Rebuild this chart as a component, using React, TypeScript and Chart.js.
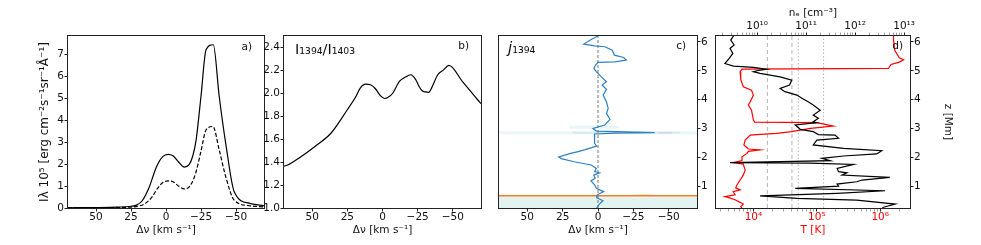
import React, { useEffect, useRef } from 'react';
import { Chart, registerables } from 'chart.js';

Chart.register(...registerables);

const W = 981;
const H = 245;
const FONT = "'DejaVu Sans', sans-serif";
const AX = '#222';
const TXT = '#111';

// ---------------- tick values ----------------
const dvTicks = [50, 25, 0, -25, -50];
const intensityTicks = [0, 1, 2, 3, 4, 5, 6, 7];
const ratioTicks = [1.0, 1.2, 1.4, 1.6, 1.8, 2.0, 2.2, 2.4];
const zTicks = [1, 2, 3, 4, 5, 6];
const tempDecades = [1e4, 1e5, 1e6];
const neDecades = [1e10, 1e11, 1e12, 1e13];

// ---------------- panel a: line profiles ----------------
const profDv1394 = [70, 50, 35, 25, 21, 17, 12, 7, 2.5, -1.5, -5, -9, -13, -16.5, -19, -21.5, -25, -28.6, -33.8, -38, -43, -48.8, -60.5, -70];
const prof1394 = [0.01, 0.02, 0.04, 0.08, 0.13, 0.33, 0.95, 1.85, 2.33, 2.45, 2.38, 2.1, 1.87, 1.98, 2.35, 3.1, 5.1, 7.22, 7.45, 5.1, 2.8, 0.73, 0.2, 0.1];
const profDv1403 = [70, 50, 25, 20, 15, 10, 6, 2, -1.5, -5, -9, -13, -17, -21, -25, -28.6, -33.5, -38, -43, -48.8, -60.5, -70];
const prof1403 = [0.005, 0.01, 0.04, 0.08, 0.2, 0.5, 0.9, 1.17, 1.24, 1.2, 1.0, 0.87, 1.0, 1.55, 2.6, 3.56, 3.72, 2.65, 1.35, 0.35, 0.1, 0.05];

// ---------------- panel b: ratio ----------------
const ratioDv = [70, 67, 60, 48, 36.5, 25, 19, 15.8, 12, 8.5, 5, 1.5, -1.6, -4, -7.4, -12, -16, -20, -23.6, -26, -28.2, -30.5, -32.8, -35, -39.3, -43, -47.2, -57, -67.6, -70];
const ratio = [1.365, 1.377, 1.43, 1.537, 1.654, 1.857, 1.97, 2.046, 2.08, 2.075, 2.04, 1.98, 1.955, 1.965, 2.003, 2.104, 2.14, 2.162, 2.12, 2.06, 2.022, 2.012, 2.008, 2.05, 2.162, 2.2, 2.243, 2.1, 1.944, 1.91];

// ---------------- panel c: emissivity centroid ----------------
const jZ = [6.2, 6.08, 5.92, 5.86, 5.83, 5.71, 5.54, 5.46, 5.37, 5.31, 5.29, 5.2, 5.08, 4.97, 4.79, 4.62, 4.51, 4.36, 4.16, 3.93, 3.7, 3.53, 3.32, 3.13, 3.01, 2.92, 2.87, 2.85, 2.82, 2.75, 2.5, 2.4, 2.27, 2.21, 2.15, 2.03, 1.97, 1.86, 1.75, 1.63, 1.52, 1.48, 1.4, 1.29, 1.2, 1.06, 0.94, 0.83, 0.72, 0.62, 0.52, 0.4, 0.265];
const jDv = [0, 4.8, 10.1, 2.4, -4.8, -10.1, -11.6, -18.1, -20, -12, 0, 1.7, 2.9, 1.2, -2.4, -6, -2.9, -6, -3.6, -6, -7.2, -6, -8.5, -4.8, 3.6, 1, -40, -12, 2.5, 2.4, 2.4, 1, 9.6, 14, 19.3, 27.8, 26, 16.9, 4.8, 1.2, 2.4, -1, 3, 2, 5, 2.4, 1, -4, 0.5, 1, -3.5, -1, 1];
const orangeZ = 0.69;
const bandTopZ = 0.66;
const glowZ = [2.86, 2.86, 2.86, 2.86, 3.05];
const glowDvFrom = [70, 18, -22, -43, 20];
const glowDvTo = [-70, -58, -40, -52, -15];
const bumpDv = [-22, -27, -32, -37, -42];
const bumpZ = [0.69, 0.71, 0.72, 0.71, 0.69];

// ---------------- panel d: atmosphere ----------------
const tZ = [6.2, 6.06, 5.7, 5.45, 5.38, 5.3, 5.22, 5.08, 5.06, 4.97, 4.7, 4.45, 4.33, 4.16, 3.93, 3.82, 3.64, 3.3, 3.23, 3.21, 3.09, 3.01, 2.9, 2.84, 2.8, 2.78, 2.61, 2.44, 2.3, 2.27, 2.22, 2.15, 2.03, 1.9, 1.83, 1.78, 1.57, 1.4, 1.23, 1.06, 0.96, 0.89, 0.83, 0.72, 0.66, 0.63, 0.55, 0.46, 0.4, 0.31, 0.265];
const tempK = [1.62e6, 1.62e6, 1.7e6, 2.0e6, 2.34e6, 2.0e6, 1.48e6, 1.35e6, 6610, 6170, 6310, 6920, 9330, 10000, 8910, 8320, 9330, 10000, 10470, 100000, 182000, 79400, 39800, 23400, 11200, 8910, 7410, 7080, 8320, 12600, 8320, 7940, 6610, 6610, 4790, 6920, 7410, 6920, 6170, 5500, 5250, 6170, 4790, 5130, 3550, 3980, 5130, 6170, 6920, 6310, 6610];
const neZ = [6.2, 6.06, 5.89, 5.77, 5.6, 5.43, 5.25, 5.16, 5.12, 5.05, 5.0, 4.97, 4.91, 4.79, 4.68, 4.51, 4.39, 4.28, 4.16, 4.05, 3.93, 3.82, 3.64, 3.47, 3.36, 3.24, 3.21, 3.13, 2.98, 2.9, 2.8, 2.78, 2.67, 2.61, 2.44, 2.32, 2.24, 2.13, 2.06, 1.98, 1.9, 1.83, 1.81, 1.77, 1.63, 1.52, 1.48, 1.4, 1.32, 1.23, 1.17, 1.09, 1.02, 0.94, 0.86, 0.77, 0.68, 0.6, 0.54, 0.4, 0.29, 0.265];
const neCm3 = [3.3e9, 2.9e9, 3.4e9, 2.8e9, 3.2e9, 2.7e9, 2.2e9, 3.3e9, 8.4e9, 1.58e10, 9.9e9, 8.4e9, 1.15e10, 2.95e10, 5.1e10, 4.6e10, 2.95e10, 3.7e10, 6.5e10, 8.2e10, 1.1e11, 1.4e11, 1.94e11, 1.4e11, 1.78e11, 1.4e11, 1.66e11, 6.0e10, 7.6e10, 1.4e11, 1.78e11, 3.9e11, 4.6e11, 1.66e11, 1.4e11, 5.8e11, 3.5e12, 2.75e12, 5.8e11, 2.1e11, 3.1e11, 2.8e9, 1.2e11, 9.3e11, 4.3e11, 4.6e11, 6.8e11, 5.4e11, 5.1e12, 1.38e12, 1.08e12, 4.3e11, 4.6e11, 6.0e10, 4.1e12, 4.3e11, 1.15e10, 6.5e10, 1.08e12, 6.6e12, 3.8e12, 3.6e12];
const tempRefLines = [1.66e4, 4.05e4, 5.1e4, 1.28e5];

// ---------------- helpers ----------------
type Pt = { x: number; y: number };
const zip = (xs: number[], ys: number[]): Pt[] => xs.map((x, i) => ({ x, y: ys[i] }));
const SUPS: Record<string, string> = { '0': '⁰', '1': '¹', '2': '²', '3': '³', '4': '⁴', '5': '⁵', '6': '⁶', '7': '⁷', '8': '⁸', '9': '⁹', '-': '⁻' };
const sup = (s: string) => s.split('').map((c) => SUPS[c] ?? c).join('');
const minus = (v: number) => String(v).replace('-', '\u2212');
const isDecade = (v: number) => {
  const e = Math.log10(v);
  return Math.abs(e - Math.round(e)) < 1e-6;
};
const logTickValues = (min: number, max: number) => {
  const out: number[] = [];
  for (let e = Math.floor(Math.log10(min)); e <= Math.ceil(Math.log10(max)); e++) {
    for (let m = 1; m < 10; m++) {
      const v = m * Math.pow(10, e);
      if (v >= min && v <= max) out.push(v);
    }
  }
  return out;
};
const makeLogLabel = (decades: number[]) => (v: number) =>
  isDecade(v) && decades.some((d) => Math.abs(Math.log10(d) - Math.log10(v)) < 1e-6)
    ? '10' + sup(String(Math.round(Math.log10(v))))
    : '';

const Z_MIN = 0.265;
const Z_MAX = 6.2;

const framePlugin = {
  id: 'frame',
  afterDatasetsDraw(chart: any) {
    const { ctx, chartArea: a } = chart;
    ctx.save();
    ctx.strokeStyle = AX;
    ctx.lineWidth = 1;
    ctx.strokeRect(Math.round(a.left) - 0.5, Math.round(a.top) - 0.5, Math.round(a.right - a.left) + 1, Math.round(a.bottom - a.top) + 1);
    ctx.restore();
  },
};

const notesPlugin = {
  id: 'notes',
  afterDraw(chart: any, _args: any, opts: any) {
    const { ctx, chartArea: a } = chart;
    for (const n of opts.items || []) {
      ctx.save();
      ctx.fillStyle = n.color || TXT;
      ctx.textBaseline = 'alphabetic';
      const parts = n.parts;
      let total = 0;
      for (const p of parts) {
        ctx.font = p.font;
        total += ctx.measureText(p.text).width;
      }
      let x = n.right ? a.right - n.dx - total : a.left + n.dx;
      const y = a.top + n.dy;
      ctx.textAlign = 'left';
      for (const p of parts) {
        ctx.font = p.font;
        ctx.fillText(p.text, x, y);
        x += ctx.measureText(p.text).width;
      }
      ctx.restore();
    }
  },
};

const tickFont = { family: FONT, size: 10.5, lineHeight: 1 };
const titleFont = { family: FONT, size: 10.5, lineHeight: 1.2 };

function axis(o: any) {
  const { size, values, fmt, color = TXT, title, titlePad, titleSize, minorAware, ...rest } = o;
  return {
    ...rest,
    grid: {
      display: true,
      drawOnChartArea: false,
      drawTicks: true,
      tickLength: 3.5,
      color: AX,
      tickColor: minorAware ? (c: any) => (c.tick && isDecade(c.tick.value) ? AX : '#666') : AX,
      tickWidth: minorAware ? (c: any) => (c.tick && isDecade(c.tick.value) ? 1 : 0.6) : 1,
    },
    border: { display: false },
    afterFit: (s: any) => {
      if (s.isHorizontal()) s.height = size;
      else s.width = size;
    },
    afterBuildTicks: (s: any) => {
      s.ticks = values.map((v: number) => ({ value: v }));
    },
    ticks: {
      autoSkip: false,
      maxRotation: 0,
      minRotation: 0,
      padding: 0.5,
      font: tickFont,
      color,
      callback: fmt,
    },
    title: title
      ? { display: true, text: title, color, font: titleSize ? { ...titleFont, size: titleSize } : titleFont, padding: titlePad }
      : { display: false },
  };
}

const baseOptions = (padding: any) => ({
  responsive: false,
  maintainAspectRatio: false,
  animation: false,
  devicePixelRatio: 1,
  layout: { padding },
  events: [],
  elements: { point: { radius: 0 } },
});

const DV_LABEL = 'Δν [km s⁻¹]';

function configA(): any {
  return {
    type: 'line',
    data: {
      datasets: [
        { data: zip(profDv1394, prof1394), borderColor: '#000', borderWidth: 1.2, pointRadius: 0, cubicInterpolationMode: 'monotone', fill: false },
        { data: zip(profDv1403, prof1403), borderColor: '#000', borderWidth: 1.2, borderDash: [4, 2], pointRadius: 0, cubicInterpolationMode: 'monotone', fill: false },
      ],
    },
    options: {
      ...baseOptions({ left: 0, top: 36, right: W - 264, bottom: 0 }),
      plugins: {
        legend: { display: false },
        tooltip: { enabled: false },
        notes: { items: [{ right: true, dx: 12, dy: 14, parts: [{ text: 'a)', font: `10.5px ${FONT}` }] }] },
      },
      scales: {
        x: axis({ type: 'linear', position: 'bottom', min: -70, max: 70, reverse: true, size: 37, values: dvTicks, fmt: minus, title: DV_LABEL, titlePad: { top: 0, bottom: 8 } }),
        y: axis({
          type: 'linear', position: 'left', min: 0, max: 7.85, size: 68, values: intensityTicks, fmt: minus,
          title: 'Iλ 10⁵ [erg cm⁻²s⁻¹sr⁻¹Å⁻¹]', titleSize: 12, titlePad: { top: 38, bottom: 0 },
        }),
      },
    },
    plugins: [framePlugin, notesPlugin],
  };
}

function configB(): any {
  return {
    type: 'line',
    data: {
      datasets: [
        { data: zip(ratioDv, ratio), borderColor: '#000', borderWidth: 1.2, pointRadius: 0, cubicInterpolationMode: 'monotone', fill: false },
      ],
    },
    options: {
      ...baseOptions({ left: 0, top: 36, right: W - 481, bottom: 0 }),
      plugins: {
        legend: { display: false },
        tooltip: { enabled: false },
        notes: {
          items: [
            { right: true, dx: 12, dy: 13, parts: [{ text: 'b)', font: `10.5px ${FONT}` }] },
            { right: false, dx: 11, dy: 17.5, parts: [{ text: 'I₁₃₉₄/I₁₄₀₃', font: `14.5px ${FONT}` }] },
          ],
        },
      },
      scales: {
        x: axis({ type: 'linear', position: 'bottom', min: -70, max: 70, reverse: true, size: 37, values: dvTicks, fmt: minus, title: DV_LABEL, titlePad: { top: 0, bottom: 8 } }),
        y: axis({ type: 'linear', position: 'left', min: 1.0, max: 2.5, size: 284, values: ratioTicks, fmt: (v: number) => v.toFixed(1) }),
      },
    },
    plugins: [framePlugin, notesPlugin],
  };
}

function configC(): any {
  const glowStyles = [
    { c: 'rgba(205,232,238,0.4)', w: 3 },
    { c: 'rgba(150,200,225,0.35)', w: 2 },
    { c: 'rgba(40,60,140,0.45)', w: 1.5 },
    { c: 'rgba(215,90,130,0.3)', w: 1.5 },
    { c: 'rgba(190,225,240,0.35)', w: 3 },
  ];
  const glowSets = glowZ.map((z, i) => ({
    data: [{ x: glowDvFrom[i], y: z }, { x: glowDvTo[i], y: z }],
    borderColor: glowStyles[i].c,
    borderWidth: glowStyles[i].w,
    pointRadius: 0,
    fill: false,
  }));
  return {
    type: 'line',
    data: {
      datasets: [
        { data: zip(jDv, jZ), borderColor: '#2f80c2', borderWidth: 1.2, pointRadius: 0, fill: false },
        { data: [{ x: 0, y: Z_MIN }, { x: 0, y: Z_MAX }], borderColor: '#777', borderWidth: 1, borderDash: [3, 2], pointRadius: 0, fill: false },
        { data: [{ x: 70, y: orangeZ }, { x: -70, y: orangeZ }], borderColor: '#f57f20', borderWidth: 1.4, pointRadius: 0, fill: false },
        { data: zip(bumpDv, bumpZ), borderColor: 'rgba(245,160,90,0.5)', borderWidth: 1, pointRadius: 0, fill: false, tension: 0.4 },
        ...glowSets,
        { data: [{ x: 70, y: bandTopZ }, { x: -70, y: bandTopZ }], borderWidth: 0, borderColor: 'rgba(0,0,0,0)', backgroundColor: '#e3f3ef', pointRadius: 0, fill: 'start' },
      ],
    },
    options: {
      ...baseOptions({ left: 499, top: 36, right: W - 697 - 28, bottom: 0 }),
      plugins: {
        legend: { display: false },
        tooltip: { enabled: false },
        notes: {
          items: [
            { right: true, dx: 11, dy: 13, parts: [{ text: 'c)', font: `10.5px ${FONT}` }] },
            { right: false, dx: 9, dy: 17, parts: [{ text: 'j', font: `italic 15px ${FONT}` }, { text: '₁₃₉₄', font: `14.5px ${FONT}` }] },
          ],
        },
      },
      scales: {
        x: axis({ type: 'linear', position: 'bottom', min: -70, max: 70, reverse: true, size: 37, values: dvTicks, fmt: minus, title: DV_LABEL, titlePad: { top: 0, bottom: 8 } }),
        y: axis({ type: 'linear', position: 'right', min: Z_MIN, max: Z_MAX, size: 28, values: zTicks, fmt: minus }),
      },
    },
    plugins: [framePlugin, notesPlugin],
  };
}

function configD(): any {
  const tMin = 2570;
  const tMax = 2.95e6;
  const neMin = 1.45e9;
  const neMax = 1.32e13;
  const refSets = tempRefLines.map((t, i) => ({
    data: [{ x: t, y: Z_MIN }, { x: t, y: Z_MAX }],
    xAxisID: 'xT',
    yAxisID: 'z',
    borderColor: '#b5b5b5',
    borderWidth: 1,
    borderDash: i < 2 ? [4, 3] : [1.5, 2],
    pointRadius: 0,
    fill: false,
  }));
  return {
    type: 'line',
    data: {
      datasets: [
        { data: zip(neCm3, neZ), xAxisID: 'xNe', yAxisID: 'z', borderColor: '#000', borderWidth: 1.2, pointRadius: 0, fill: false },
        { data: zip(tempK, tZ), xAxisID: 'xT', yAxisID: 'z', borderColor: '#ff0000', borderWidth: 1.2, pointRadius: 0, fill: false },
        ...refSets,
      ],
    },
    options: {
      ...baseOptions({ left: 716, top: 0, right: 0, bottom: 0 }),
      plugins: {
        legend: { display: false },
        tooltip: { enabled: false },
        notes: { items: [{ right: true, dx: 7, dy: 13, parts: [{ text: 'd)', font: `10.5px ${FONT}` }] }] },
      },
      scales: {
        xT: axis({
          axis: 'x', type: 'logarithmic', position: 'bottom', min: tMin, max: tMax, size: 37,
          values: logTickValues(tMin, tMax), fmt: makeLogLabel(tempDecades), color: '#ff0000', minorAware: true,
          title: 'T [K]', titlePad: { top: 0, bottom: 8 },
        }),
        xNe: axis({
          axis: 'x', type: 'logarithmic', position: 'top', min: neMin, max: neMax, size: 36,
          values: logTickValues(neMin, neMax), fmt: makeLogLabel(neDecades), minorAware: true,
          title: 'nₑ [cm⁻³]', titlePad: { top: 7, bottom: 0 },
        }),
        z: axis({
          axis: 'y', type: 'linear', position: 'right', min: Z_MIN, max: Z_MAX, size: W - 910, values: zTicks, fmt: minus,
          title: 'z [Mm]', titlePad: { top: 27, bottom: 0 },
        }),
      },
    },
    plugins: [framePlugin, notesPlugin],
  };
}

function Panel({ make }: { make: () => any }) {
  const ref = useRef<HTMLCanvasElement>(null);
  useEffect(() => {
    if (!ref.current) return;
    const chart = new Chart(ref.current, make());
    return () => chart.destroy();
  }, [make]);
  return (
    <canvas
      ref={ref}
      width={W}
      height={H}
      style={{ position: 'absolute', left: 0, top: 0, width: W, height: H, pointerEvents: 'none' }}
    />
  );
}

export default function App() {
  return (
    <div style={{ position: 'fixed', left: 0, top: 0, width: W, height: H, background: '#fff', overflow: 'hidden' }}>
      <Panel make={configA} />
      <Panel make={configB} />
      <Panel make={configC} />
      <Panel make={configD} />
    </div>
  );
}
